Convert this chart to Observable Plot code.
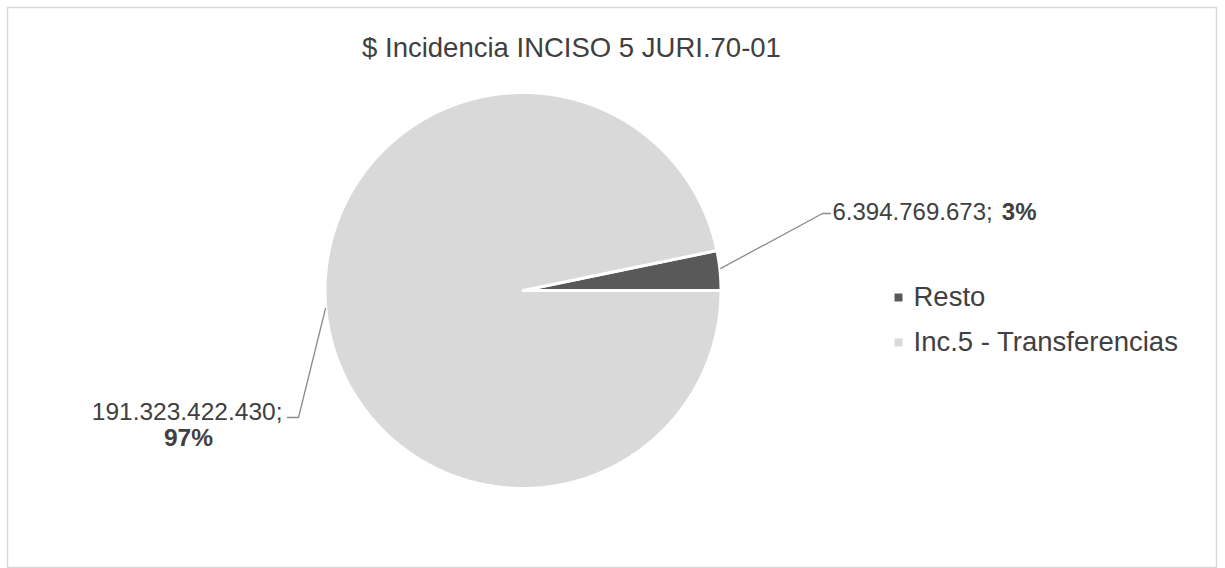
<!DOCTYPE html>
<html>
<head>
<meta charset="utf-8">
<script src="https://cdn.jsdelivr.net/npm/d3@7"></script>
<script src="https://cdn.jsdelivr.net/npm/@observablehq/plot@0.6"></script>
<style>
  html, body { margin: 0; padding: 0; background: #fff; }
  svg { display: block; }
</style>
</head>
<body>
<div id="chart"></div>
<script>
// ---- data ----
const categories = ["Resto", "Inc.5 - Transferencias"];
const values = [6394769673, 191323422430];
const colors = ["#595959", "#d9d9d9"];
const title = "$ Incidencia INCISO 5 JURI.70-01";

// ---- layout constants ----
const W = 1225, H = 568;
const cx = 522.5, cy = 290, R = 198;
const font = "'Liberation Sans', Arial, sans-serif";
const textColor = "#404040";

const total = d3.sum(values);
const frac0 = values[0] / total;
const start = Math.PI / 2 - frac0 * 2 * Math.PI;
const arcs = d3.pie().sort(null).startAngle(start).endAngle(start + 2 * Math.PI)(values);

// slice polygons
const slicePts = [];
arcs.forEach((a, i) => {
  slicePts.push({cat: categories[i], x: cx, y: cy});
  const n = Math.max(2, Math.ceil((a.endAngle - a.startAngle) / (Math.PI / 360)));
  for (let k = 0; k <= n; k++) {
    const t = a.startAngle + (a.endAngle - a.startAngle) * k / n;
    slicePts.push({cat: categories[i], x: cx + R * Math.sin(t), y: cy - R * Math.cos(t)});
  }
});

const loc = d3.formatLocale({decimal: ",", thousands: ".", grouping: [3], currency: ["$", ""]});
const fmt = loc.format(",d");
const pct = v => Math.round(v / total * 100) + "%";

// leader lines (edge of slice -> label)
const a0 = arcs[0];
const t0 = a0.startAngle + (a0.endAngle - a0.startAngle) * 0.45;
const e0 = {x: cx + R * Math.sin(t0) + 1, y: cy - R * Math.cos(t0)};
const leaders = [
  {id: 0, x: e0.x, y: e0.y}, {id: 0, x: 822, y: 213}, {id: 0, x: 830, y: 213},
  {id: 1, x: 325, y: 308}, {id: 1, x: 298, y: 417}, {id: 1, x: 287, y: 417}
];

const legend = categories.map((c, i) => ({cat: c, x: 898, y: 297 + i * 45}));

const chart = Plot.plot({
  width: W, height: H,
  margin: 0,
  x: {domain: [0, W], range: [0, W], axis: null},
  y: {domain: [0, H], range: [0, H], axis: null},
  color: {domain: categories, range: colors},
  style: {fontFamily: font, background: "#fff"},
  marks: [
    Plot.frame({stroke: "#d9d9d9", strokeWidth: 1.5, insetLeft: 7, insetTop: 7, insetRight: 9, insetBottom: 1}),
    Plot.line(slicePts, {x: "x", y: "y", z: "cat", fill: "cat", stroke: "white", strokeWidth: 3, curve: "linear-closed"}),
    Plot.line(leaders, {x: "x", y: "y", z: "id", stroke: "#8c8c8c", strokeWidth: 1.3}),
    // value labels
    Plot.text([fmt(values[0]) + ";"], {x: () => 832, y: () => 212, text: d => d, textAnchor: "start", fontSize: 24, fill: textColor}),
    Plot.text([pct(values[0])], {x: () => 1036, y: () => 212, text: d => d, textAnchor: "end", fontSize: 24, fontWeight: "bold", fill: textColor}),
    Plot.text([fmt(values[1]) + ";"], {x: () => 282, y: () => 412, text: d => d, textAnchor: "end", fontSize: 24.5, fill: textColor}),
    Plot.text([pct(values[1])], {x: () => 188, y: () => 438, text: d => d, textAnchor: "middle", fontSize: 24.5, fontWeight: "bold", fill: textColor}),
    // legend
    Plot.dot(legend, {x: "x", y: "y", symbol: "square", r: 4.5, fill: "cat", stroke: null}),
    Plot.text(legend, {x: d => d.x + 15, y: "y", text: "cat", textAnchor: "start", fontSize: 27.5, fill: textColor}),
    // title
    Plot.text([title], {x: () => 571, y: () => 48, text: d => d, textAnchor: "middle", fontSize: 27.5, fill: textColor})
  ]
});
document.getElementById("chart").appendChild(chart);
</script>
</body>
</html>
